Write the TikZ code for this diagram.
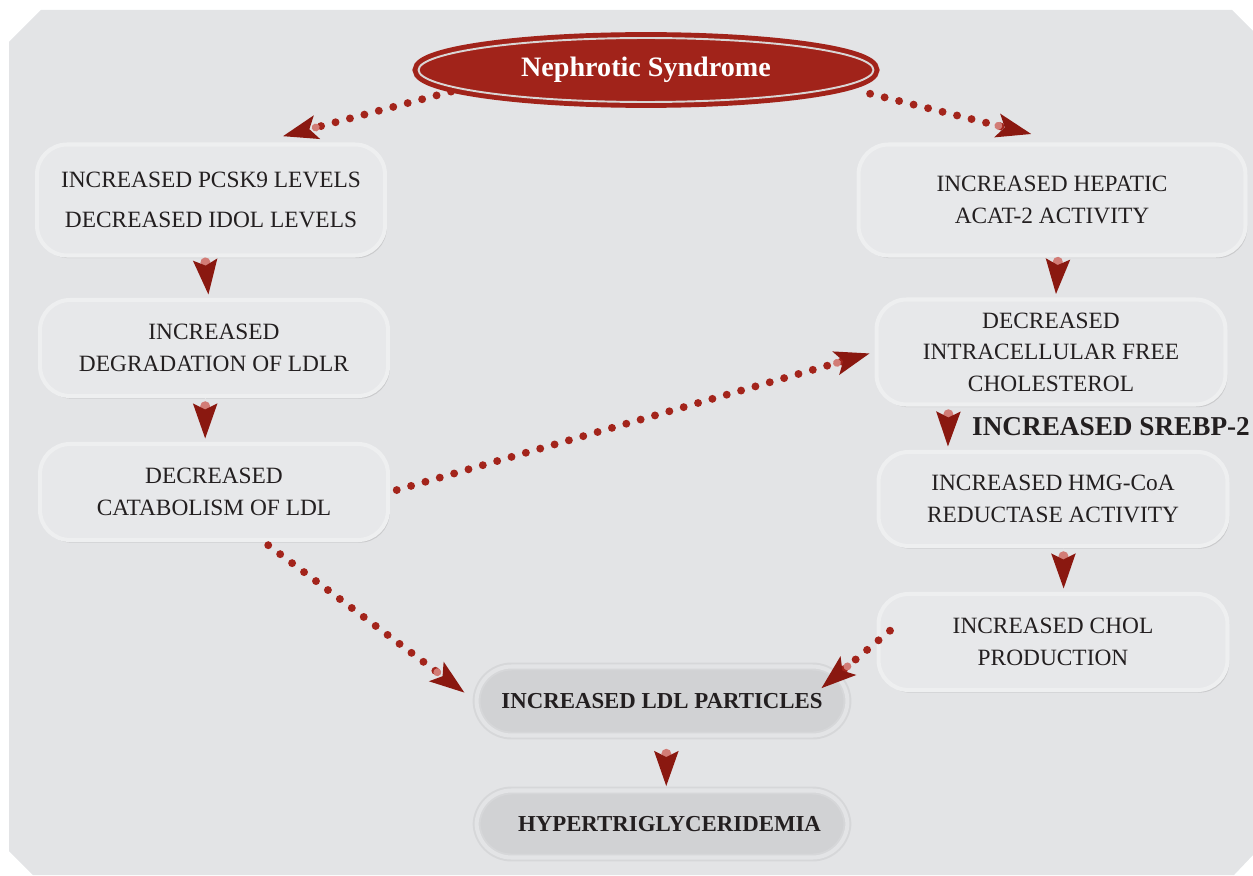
\documentclass[tikz,border=0pt]{standalone}
\usepackage{fontspec}
\setmainfont{Liberation Serif}
\usetikzlibrary{shapes.geometric,arrows.meta,positioning,shadows}

\definecolor{panelgray}{HTML}{E3E4E6}
\definecolor{boxgray}{HTML}{E7E8EA}
\definecolor{rimgray}{HTML}{EEEFF0}
\definecolor{ldlgray}{HTML}{D1D2D4}
\definecolor{ldlrim}{HTML}{D6D7D9}
\definecolor{titlered}{HTML}{A1231A}
\definecolor{ringgray}{HTML}{D9D6D5}
\definecolor{dotred}{HTML}{A3241B}
\definecolor{tipred}{HTML}{8A1810}
\definecolor{pinkdot}{HTML}{D27C76}
\definecolor{textgray}{HTML}{231F20}

\tikzset{
  titlenode/.style={ellipse, fill=titlered, draw=titlered, double=ringgray, double distance=1.1pt,
    line width=2.8pt, minimum width=9.1cm, minimum height=1.28cm, inner sep=0pt, text=white,
    font=\bfseries\fontsize{16}{18}\selectfont,
    drop shadow={shadow xshift=0pt, shadow yshift=-2.5pt, opacity=0.3}},
  stepbox/.style={rectangle, rounded corners=0.6cm, fill=boxgray, draw=rimgray, line width=2.3pt,
    inner sep=0pt, align=center, text=textgray, font=\fontsize{13.3}{18}\selectfont,
    drop shadow={shadow xshift=1pt, shadow yshift=-1.5pt, opacity=0.25}},
  endbox/.style={rectangle, rounded corners=0.7cm, fill=ldlgray, draw=ldlrim, double=panelgray,
    double distance=2.3pt, line width=1.1pt, inner sep=0pt, align=center, text=textgray,
    font=\bfseries\fontsize{13}{18}\selectfont},
  dotarrow/.style={draw=dotred, line width=4.5pt, line cap=round, dash pattern=on 0pt off 8.5pt,
    -{Circle[length=4.5pt, line width=0pt, color=pinkdot, sep=-3pt]
      Stealth[length=20pt, width=14pt, inset=4.5pt, line width=0pt, color=tipred]}},
  vstep/.style={draw=panelgray, line width=0.1pt, shorten >=2pt,
    -{Circle[length=5.7pt, line width=0pt, color=pinkdot, sep=-4.5pt]
      Stealth[length=20pt, width=14pt, inset=3.5pt, line width=0pt, color=tipred]}}
}

\begin{document}
\begin{tikzpicture}[x=0.02cm, y=-0.02cm]
    \useasboundingbox (0,0) rectangle (1253,875);
    \fill[panelgray] (9,42) -- (41,10) -- (1232,10) -- (1253,31) -- (1253,855) -- (1234,875)
        -- (33,875) -- (9,851) -- cycle;

    \node[titlenode] (nephro) at (646,70) {Nephrotic Syndrome};

    \node[stepbox, minimum width=6.96cm, minimum height=2.22cm] (pcsk) at (211,200)
        {INCREASED PCSK9 LEVELS\\[4.5pt] DECREASED IDOL LEVELS};
    \node[stepbox, minimum width=6.96cm, minimum height=1.92cm] (degr) at (214,348)
        {INCREASED\\ DEGRADATION OF LDLR};
    \node[stepbox, minimum width=6.96cm, minimum height=1.92cm] (catab) at (214,492)
        {DECREASED\\ CATABOLISM OF LDL};

    \node[stepbox, minimum width=7.74cm, minimum height=2.22cm] (acat) at (1052,200)
        {INCREASED HEPATIC\\ ACAT-2 ACTIVITY};
    \node[stepbox, minimum width=6.98cm, minimum height=2.10cm] (free) at (1051,352)
        {DECREASED\\ INTRACELLULAR FREE\\ CHOLESTEROL};
    \node[stepbox, minimum width=6.98cm, minimum height=1.88cm] (hmg) at (1053,499)
        {INCREASED HMG-CoA\\ REDUCTASE ACTIVITY};
    \node[stepbox, minimum width=6.98cm, minimum height=1.92cm] (chol) at (1053,642)
        {INCREASED CHOL\\ PRODUCTION};
    \node[anchor=west, text=textgray, font=\bfseries\fontsize{15.5}{18}\selectfont] (srebp) at (966,427)
        {INCREASED SREBP-2};

    \node[endbox, minimum width=7.42cm, minimum height=1.38cm] (ldl) at (662,701)
        {INCREASED LDL PARTICLES};
    \node[endbox, minimum width=7.42cm, minimum height=1.34cm] (hyper) at (662,824)
        {\hspace{0.3cm}HYPERTRIGLYCERIDEMIA};

    \draw[dotarrow, shorten <=4pt, shorten >=14pt] (nephro.186) -- (pcsk.50);
    \draw[dotarrow, shorten <=15pt, shorten >=20pt] (nephro.355) -- (acat.77);
    \draw[dotarrow, shorten <=4pt, shorten >=3pt] (catab.east) -- (free.west);
    \draw[dotarrow, shorten <=3pt, shorten >=8pt] (catab.-45) -- (ldl.west);
    \draw[dotarrow, shorten <=-10pt, shorten >=-20pt] (chol.west) -- (ldl.north east);

    \draw[vstep] (pcsk.-96) -- (degr.96);
    \draw[vstep] (degr.-100) -- (catab.100);
    \draw[vstep] (acat.-84) -- (free.85);
    \draw[vstep] (free.208) -- (hmg.155);
    \draw[vstep] (hmg.-78) -- (chol.78);
    \draw[vstep] (ldl.-83) -- (hyper.83);
\end{tikzpicture}
\end{document}
